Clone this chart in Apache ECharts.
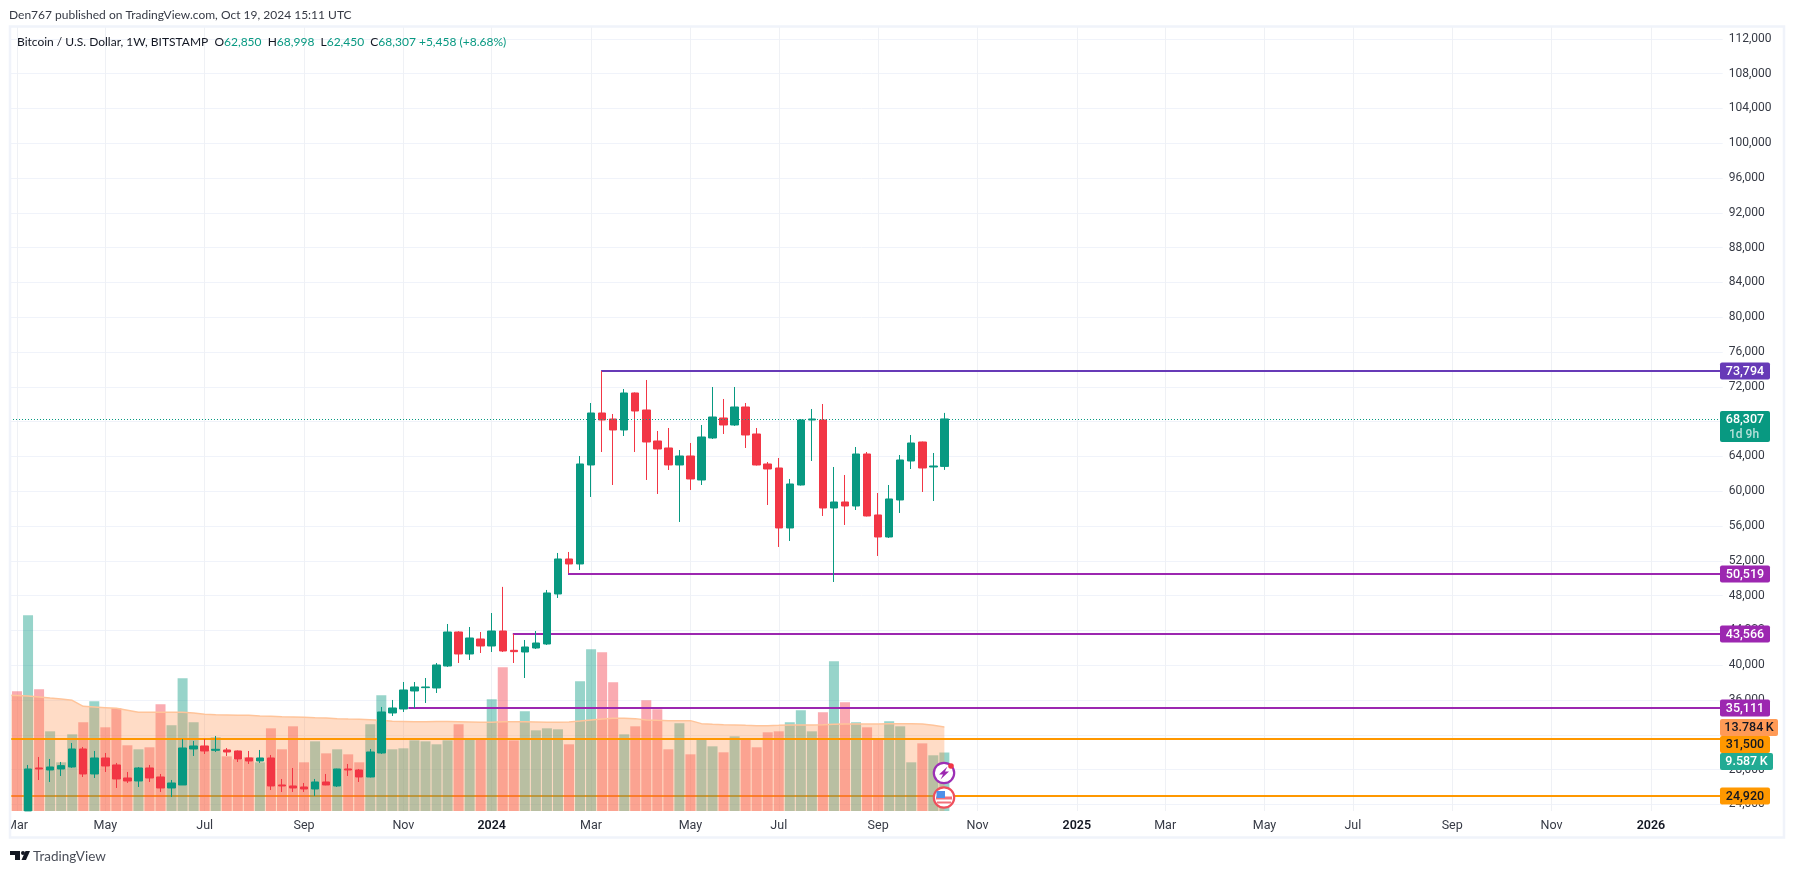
<!DOCTYPE html>
<html><head><meta charset="utf-8">
<style>html,body{margin:0;padding:0;background:#fff}#c{width:1794px;height:874px}</style>
<script src="https://cdn.jsdelivr.net/npm/echarts@6/dist/echarts.min.js"></script>
</head><body><div id="c"></div>
<script>
// ---------- data (weeks, first entry is the partially hidden bar left of the frame) ----------
const firstWeek = '2023-02-27';
const weekCount = 156;
const openPrices = [23200,22400,23250,28186,27957,28072,28301,30370,27497,29336,28532,27037,26692,28186,27152,25888,26233,30370,30715,30217,30255,30140,29336,28991,29336,26233,26118,26003,25773,26577,26118,28072,27957,27152,29910,34508,34968,37036,37420,37381,39909,43817,41288,43012,42208,43932,41710,41518,41978,42438,48187,52210,51635,63013,68989,68300,67036,71288,69334,65771,64967,63013,64047,61288,66116,68414,67609,69678,66575,63127,62668,55772,60714,68184,68184,58070,58760,58300,64277,57266,54737,58990,63472,65656,62783,62850];
const closePrices = [22400,20500,28072,28072,28301,28455,30370,27497,29336,28417,26922,26692,28186,27037,25888,26462,30485,30715,30140,30332,30025,29221,28991,29336,26118,26118,25888,25773,26577,26233,28072,27957,27152,30025,34623,35082,37151,37496,37496,40024,43817,41288,43127,42208,43932,41633,41557,42093,42553,48302,52210,51635,63128,68989,68185,67036,71288,69219,65656,64852,63013,64047,61404,66230,68529,67609,69678,66460,63012,62553,55772,60829,68184,68299,58070,58760,58300,64277,57151,54737,59105,63587,65541,62668,62897,68307];
const lowPrices = [21900,19600,23250,26807,26577,27267,28200,27152,27037,27727,25888,26462,26003,26577,25428,24853,26233,29566,29796,30025,29566,28876,28646,28761,25658,25428,25428,25428,24968,26200,26003,27267,26577,27100,29800,34163,34623,35082,35657,36806,39800,40254,40599,41403,41518,41518,40254,38530,41863,42323,47727,50600,50945,59335,64507,60714,66346,64507,61289,59680,62438,56462,60140,60714,66000,66575,67500,64966,62950,58415,53588,54278,60650,63472,57151,49566,56116,57840,57100,52554,54622,57496,62553,59909,58875,62450];
const highPrices = [23200,22600,28532,29451,29221,28876,31060,30600,30140,29910,28762,27727,28300,28532,27497,26807,31519,31290,31519,31864,30485,30200,30140,30255,29680,26922,28186,26462,26922,27497,28100,28646,28072,30370,35197,36002,38070,38070,38530,40254,44736,43900,44392,43817,45999,49000,43587,42897,43932,48647,52899,53014,64047,70139,73794,68874,71748,71350,72782,66921,67265,64737,65541,67609,71977,70598,71977,70138,67265,63357,63817,61404,68300,69448,70023,62783,61863,65081,64507,59794,60714,64162,66460,65700,64391,68998];
const volumesK = [10.22,19.62,32.08,19.95,13.06,7.98,12.57,14.54,17.98,13.72,16.83,10.77,10.11,10.44,17.49,14.04,21.75,14.54,9.95,12.08,8.96,8.47,8.80,7.98,13.55,10.11,13.88,7.98,11.42,9.45,10.11,9.29,7.98,14.21,18.96,10.11,10.27,11.58,11.42,10.93,11.58,14.21,11.91,11.75,18.31,23.55,11.58,16.34,13.22,13.55,13.39,10.93,21.26,26.50,26.01,21.09,12.57,13.88,18.14,16.67,10.11,14.37,9.29,11.75,10.60,9.62,12.24,11.75,10.44,12.90,13.06,14.54,16.50,13.06,16.17,24.54,17.81,14.54,13.72,11.75,14.70,13.88,7.98,11.09,9.13,9.587];
const volumeMaK = [18.96,18.93,18.85,18.69,18.52,18.36,18.14,17.16,17.05,16.94,16.83,16.50,16.17,16.17,16.17,16.17,16.17,16.07,15.85,15.79,15.74,15.68,15.68,15.57,15.52,15.46,15.41,15.36,15.30,15.25,15.14,15.08,15.03,14.97,14.86,14.70,14.67,14.64,14.64,14.67,14.67,14.64,14.59,14.54,14.54,14.64,14.64,14.64,14.59,14.54,14.54,14.59,14.75,14.92,15.08,15.19,15.19,15.14,14.92,14.86,14.81,14.81,14.81,14.32,14.21,14.15,14.10,14.04,13.99,13.99,14.04,14.10,14.10,14.10,14.15,14.21,14.26,14.26,14.26,14.26,14.32,14.32,14.32,14.26,14.04,13.784];
const priceTicks = [24000,28000,32000,36000,40000,44000,48000,52000,56000,60000,64000,68000,72000,76000,80000,84000,88000,92000,96000,100000,104000,108000,112000];
const timeTickDates = ['2023-03-06','2023-05-01','2023-07-03','2023-09-04','2023-11-06','2024-01-01','2024-03-04','2024-05-06','2024-07-01','2024-09-02','2024-11-04','2025-01-06','2025-03-03','2025-05-05','2025-06-30','2025-09-01','2025-11-03','2026-01-05'];
const timeTickLabels = ['Mar','May','Jul','Sep','Nov','2024','Mar','May','Jul','Sep','Nov','2025','Mar','May','Jul','Sep','Nov','2026'];
const levelValues = [73794,50519,43566,35111,31500];
const levelStarts = [54,51,46,37,0];
const lowLevelValues = [24920];
const lastPrice = 68307;
const lastVolumeK = 9.587;
const lastVolumeMaK = 13.784;

// ---------- styles ----------
const FONT = 'Roboto, sans-serif';
const UP = '#089981', DOWN = '#f23645';
const PURPLE = '#9c27b0', DEEP = '#673ab7', ORANGE = '#ff9800';
const levelStyles = [
  {c:DEEP, t:'#fff', dy:0, dx:-1},{c:PURPLE, t:'#fff', dy:0, dx:-1},{c:PURPLE, t:'#fff', dy:0, dx:-1},{c:PURPLE, t:'#fff', dy:0, dx:-6},{c:ORANGE, t:'#131722', dy:5.5, dx:0}
];
const plotRight = 1720, frameLeft = 10;

// ---------- derived ----------
const weeks = [];
{ const d = new Date(firstWeek + 'T00:00:00Z');
  for (let i = 0; i < weekCount; i++) { weeks.push(d.toISOString().slice(0,10)); d.setUTCDate(d.getUTCDate()+7); } }
const tickIdx = new Set(timeTickDates.map(d => weeks.indexOf(d)));
const labelOf = d => timeTickLabels[timeTickDates.indexOf(d)];
const candleData = openPrices.map((o,i)=>[o,closePrices[i],lowPrices[i],highPrices[i]]);
const barData = volumesK.map((v,i)=>({value:v,itemStyle:{color: closePrices[i]>=openPrices[i]?'rgba(8,153,129,0.42)':'rgba(242,54,69,0.42)'}}));
const fmt = v => v.toLocaleString('en-US');

function badge(x, cy, w, h, fill, text, color){
  return [
    {type:'rect', shape:{x, y:cy-h/2, width:w, height:h, r:2}, style:{fill}},
    {type:'text', style:{text, x:x+w/2, y:cy+0.5, fill:color, font:'500 12.5px '+FONT, align:'center', verticalAlign:'middle'}}
  ];
}
function levelItem(value, start, st, params, api){
  const p = api.coord([start, value]);
  const x0 = start === 0 ? frameLeft : p[0] + (st.dx||0);
  const y = Math.round(p[1]);
  return {type:'group', children:[
    {type:'line', shape:{x1:x0, y1:y, x2:plotRight, y2:y}, style:{stroke:st.c, lineWidth:2}},
    ...badge(plotRight, y+st.dy, 50, 17, st.c, fmt(value), st.t)
  ]};
}
const above = (o) => Object.assign({z:103, silent:true}, o);

const option = {
  animation:false, backgroundColor:'#fff',
  grid:{left:0.44, top:27, width:1722.24, height:784, containLabel:false},
  xAxis:{type:'category', data:weeks, boundaryGap:true,
    axisLine:{show:false}, axisTick:{show:false},
    axisLabel:{interval:(i)=>tickIdx.has(i), color:'#363a45', fontFamily:FONT, fontSize:12.5, margin:8,
      hideOverlap:false,
      formatter:(d)=>{const l=labelOf(d);return /^\d/.test(l)?'{y|'+l+'}':l;},
      rich:{y:{fontWeight:600,color:'#131722',fontFamily:FONT,fontSize:12.5}}},
    splitLine:{show:true, alignWithLabel:true, interval:(i)=>tickIdx.has(i), lineStyle:{color:'#eff1f5',width:1}}
  },
  yAxis:[
    {type:'value', position:'right', min:23241, max:113356, scale:true,
      axisLine:{show:false}, axisTick:{show:false, customValues:priceTicks},
      axisLabel:{customValues:priceTicks, color:'#363a45', fontFamily:FONT, fontSize:12, margin:6, formatter:(v)=>fmt(v), showMinLabel:true, showMaxLabel:true},
      splitLine:{show:true, lineStyle:{color:'#f0f3fa',width:1}}},
    {type:'value', show:false, min:0, max:128.5, splitLine:{show:false}}
  ],
  series:[
    {type:'custom', name:'Low levels', z:1, clip:false, data:lowLevelValues.map(v=>[0,v]), encode:{x:0,y:1},
      renderItem:(params,api)=>levelItem(api.value(1),0,{c:ORANGE,t:'#131722',dy:0},params,api), silent:true},
    {type:'bar', name:'Volume', yAxisIndex:1, z:2, barWidth:10, data:barData, silent:true},
    {type:'line', name:'Volume MA', yAxisIndex:1, z:3, data:volumeMaK, showSymbol:false, symbol:'none',
      lineStyle:{color:'#ffc49a',width:1.5}, areaStyle:{color:'rgba(255,149,83,0.47)'}, silent:true},
    {type:'custom', name:'Levels', z:4, clip:false, data:levelValues.map((v,i)=>[levelStarts[i],v]), encode:{x:0,y:1},
      renderItem:(params,api)=>levelItem(api.value(1),api.value(0),levelStyles[params.dataIndex],params,api), silent:true},
    {type:'candlestick', name:'BTCUSD', z:5, barWidth:8, clip:true, data:candleData, silent:true,
      itemStyle:{color:UP,color0:DOWN,borderColor:UP,borderColor0:DOWN,borderWidth:1}},
    {type:'custom', name:'Last price', z:6, clip:false, data:[[0,lastPrice]], encode:{x:0,y:1}, silent:true,
      renderItem:(params,api)=>{const y=Math.round(api.coord([0,api.value(1)])[1])+0.5;
        return {type:'group',children:[
          {type:'line',shape:{x1:frameLeft,y1:y,x2:plotRight,y2:y},style:{stroke:UP,lineWidth:1,lineDash:[1,2]}},
          {type:'rect',shape:{x:plotRight,y:y-8.5,width:50,height:31,r:2},style:{fill:UP}},
          {type:'text',style:{text:fmt(api.value(1)),x:plotRight+25,y:y+0.5,fill:'#fff',font:'500 12.5px '+FONT,align:'center',verticalAlign:'middle'}},
          {type:'text',style:{text:'1d 9h',x:plotRight+9,y:y+15,fill:'rgba(255,255,255,0.7)',font:'500 12px '+FONT,align:'left',verticalAlign:'middle'}}
        ]};}},
    {type:'custom', name:'Volume badges', yAxisIndex:1, z:7, clip:false, data:[[85,lastVolumeMaK],[85,lastVolumeK]], encode:{x:0,y:1}, silent:true,
      renderItem:(params,api)=>{const y=api.coord([85,api.value(1)])[1];
        return params.dataIndex===0
          ? {type:'group',children:badge(plotRight,y+0.5,58,17,'#ff9a56',lastVolumeMaK.toFixed(3)+'\u2009K','#131722')}
          : {type:'group',children:badge(plotRight,y+9,53,17,'#22ab94',lastVolumeK.toFixed(3)+'\u2009K','#fff')};}}
  ],
  graphic:[
    {type:'rect', z:100, silent:true, shape:{x:0,y:0,width:9,height:874}, style:{fill:'#fff'}},
    {type:'rect', z:101, silent:true, shape:{x:10,y:26.5,width:1774,height:811}, style:{fill:'transparent',stroke:'#f0f3fa',lineWidth:2.5}},
    {type:'text', z:102, silent:true, x:9, y:9, style:{text:'Den767 published on TradingView.com, Oct 19, 2024 15:11 UTC', fill:'#363a45', font:'12px Lato, sans-serif'}},
    {type:'text', z:102, silent:true, x:17, y:36, style:{
      text:'{k|Bitcoin / U.S. Dollar, 1W, BITSTAMP  O}{v|62,850}{k|  H}{v|68,998}{k|  L}{v|62,450}{k|  C}{v|68,307}{v| +5,458 (+8.68%)}',
      rich:{k:{fill:'#131722',font:'12px Lato, sans-serif'},v:{fill:UP,font:'12px Lato, sans-serif'}}}},
    // event icons
    {type:'group', x:944, y:773, children:[
      above({type:'circle',shape:{cx:0,cy:0,r:10.2},style:{fill:'#fff',stroke:'#9c2fb5',lineWidth:2.2}}),
      above({type:'polygon',z:104,shape:{points:[[3.5,-6.5],[-5,1.5],[-1,1.5],[-3.5,6.5],[5,-1.5],[1,-1.5]]},style:{fill:PURPLE}}),
      above({type:'circle',z:104,shape:{cx:7,cy:-7,r:2.8},style:{fill:'#f23645'}})
    ]},
    {type:'group', x:944, y:797.5, children:[
      above({type:'circle',shape:{cx:0,cy:0,r:10.2},style:{fill:'#fff',stroke:'#ef4f5c',lineWidth:2.2}}),
      above({type:'rect',z:104,shape:{x:-8,y:-1,width:16,height:3},style:{fill:'#f2707a'}}),
      above({type:'rect',z:104,shape:{x:-7,y:4,width:14,height:2},style:{fill:'#f2707a'}}),
      above({type:'rect',z:105,shape:{x:-7.5,y:-6.5,width:8.5,height:7},style:{fill:'#4f8fe8'}})
    ]},
    // logo
    {type:'group', x:10, y:851, children:[
      above({type:'polygon',shape:{points:[[0,0],[10,0],[10,9],[5,9],[5,4],[0,4]]},style:{fill:'#131722'}}),
      above({type:'circle',shape:{cx:13,cy:2,r:2},style:{fill:'#131722'}}),
      above({type:'polygon',shape:{points:[[11.5,9],[15.5,0],[20,0],[16,9]]},style:{fill:'#131722'}})
    ]},
    {type:'text', z:103, silent:true, x:33, y:850, style:{text:'TradingView', fill:'#4a4e58', font:'13.5px Lato, sans-serif'}}
  ]
};
const chart = echarts.init(document.getElementById('c'), null, {renderer:'canvas'});
chart.setOption(option);
</script></body></html>
